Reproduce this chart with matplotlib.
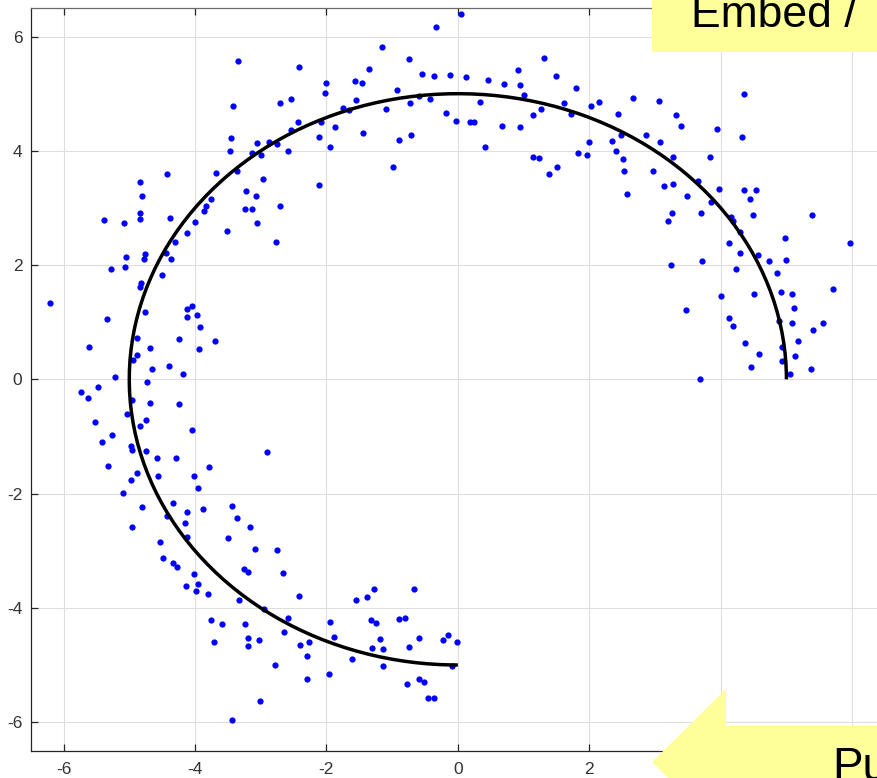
#!/usr/bin/env python3
"""Noisy samples scattered around a 270 degree circular arc (radius 5)."""

import numpy as np
import matplotlib

matplotlib.use("Agg")
import matplotlib.pyplot as plt
import matplotlib.patches as patches

# ---- data -------------------------------------------------------------
arc_radius = 5.0
arc_start_deg = 0
arc_end_deg = 270

# samples, grouped by where they sit on the arc
top_points = [
    (-3.35, 5.57), (-3.42, 4.78), (-3.45, 4.23), (-3.46, 3.99), (-3.13, 3.96),
    (-4.42, 3.60), (-4.84, 3.46), (-3.68, 3.62), (-3.36, 3.64), (-4.80, 3.21),
    (-3.23, 3.29), (-3.76, 3.16), (-3.84, 3.03), (-3.86, 2.95), (-4.84, 2.92),
    (-4.83, 2.80), (-5.39, 2.79), (-5.08, 2.74), (-4.38, 2.83), (-3.24, 2.99),
    (-3.14, 2.99), (-4.00, 2.76), (-4.12, 2.56), (-3.52, 2.60), (-4.31, 2.41),
    (0.05, 6.39), (-0.33, 6.17), (-1.15, 5.82), (-0.75, 5.61), (-2.41, 5.47),
    (-1.35, 5.44), (-0.55, 5.35), (-0.37, 5.31), (-0.12, 5.32), (0.13, 5.29),
    (-2.00, 5.19), (-1.56, 5.23), (-1.46, 5.18), (-2.02, 5.01), (-0.93, 5.07),
    (-2.54, 4.90), (-2.70, 4.83), (-1.55, 4.89), (-1.75, 4.75), (-1.66, 4.72),
    (-1.10, 4.73), (-0.73, 4.84), (-0.59, 4.96), (-0.43, 4.91), (0.34, 4.85),
    (-0.18, 4.66), (-0.03, 4.53), (0.18, 4.50), (0.25, 4.50), (-2.43, 4.51),
    (-2.08, 4.51), (-2.54, 4.36), (-1.87, 4.42), (-2.12, 4.24), (-1.44, 4.31),
    (-0.90, 4.19), (-0.71, 4.27), (-1.95, 4.07), (0.42, 4.07), (-2.75, 4.12),
    (-2.87, 4.16), (-3.05, 4.13), (-3.00, 3.92), (-2.58, 3.99), (-0.99, 3.72),
    (-2.96, 3.51), (-2.12, 3.40), (-3.07, 3.21), (-2.71, 3.03), (-3.05, 2.73),
    (-2.77, 2.40),
    (0.46, 5.24), (1.31, 5.63), (0.91, 5.42), (1.50, 5.31), (0.70, 5.17),
    (0.95, 5.16), (1.00, 4.98), (1.80, 5.10), (1.62, 4.84), (1.27, 4.74),
    (1.15, 4.63), (1.72, 4.65), (2.15, 4.85), (2.03, 4.78), (2.66, 4.92),
    (3.06, 4.88), (2.43, 4.65), (0.67, 4.43), (0.95, 4.42), (2.49, 4.27),
    (2.86, 4.27), (3.08, 4.15), (2.34, 4.17), (2.00, 4.16), (2.41, 3.99),
    (2.51, 3.86), (1.83, 3.96), (1.97, 3.93), (1.15, 3.90), (1.23, 3.88),
    (1.51, 3.72), (1.39, 3.59), (2.53, 3.65), (2.97, 3.64), (3.28, 3.89),
    (3.27, 3.42), (3.13, 3.38), (2.57, 3.25), (3.26, 2.91), (3.20, 2.77),
]

right_points = [
    (4.36, 4.99), (3.32, 4.62), (3.39, 4.43), (3.95, 4.39), (4.33, 4.24),
    (3.84, 3.89), (3.65, 3.47), (3.48, 3.21), (3.98, 3.34), (4.35, 3.31),
    (4.53, 3.32), (4.45, 3.16), (3.85, 3.11), (3.70, 2.91), (4.15, 2.85),
    (4.19, 2.78), (4.49, 2.87), (5.39, 2.88), (4.30, 2.58), (4.98, 2.47),
    (5.97, 2.39), (4.12, 2.38),
    (4.29, 2.21), (4.56, 2.17), (4.73, 2.07), (5.00, 2.09), (3.24, 2.01),
    (3.72, 2.07), (4.24, 1.93), (4.85, 1.86), (5.71, 1.58), (4.00, 1.46),
    (4.51, 1.49), (4.91, 1.53), (5.08, 1.50), (5.12, 1.25), (3.47, 1.21),
    (4.12, 1.07), (4.18, 0.94), (4.88, 1.02), (5.08, 0.98), (5.55, 0.98),
    (5.41, 0.87), (4.37, 0.64), (5.18, 0.67), (4.93, 0.56), (4.59, 0.44),
    (5.13, 0.41), (4.46, 0.22), (4.93, 0.32), (5.37, 0.18), (5.06, 0.09),
    (3.68, 0.01),
]

left_points = [
    (-4.44, 2.22), (-5.05, 2.14), (-4.76, 2.19), (-4.77, 2.11), (-4.37, 2.10),
    (-5.28, 1.94), (-5.06, 1.96), (-4.50, 1.82), (-4.82, 1.69), (-4.83, 1.61),
    (-6.20, 1.33), (-4.05, 1.28), (-4.12, 1.23), (-4.76, 1.18), (-4.12, 1.09),
    (-3.97, 1.12), (-5.34, 1.05), (-3.93, 0.91), (-4.88, 0.73), (-4.25, 0.71),
    (-3.70, 0.68), (-5.62, 0.57), (-4.69, 0.55), (-3.94, 0.53), (-4.88, 0.42),
    (-4.94, 0.34), (-4.39, 0.24), (-4.66, 0.18), (-4.19, 0.09), (-5.21, 0.04),
    (-4.73, -0.04), (-5.47, -0.13), (-5.73, -0.23), (-5.63, -0.32), (-4.96, -0.36),
    (-4.68, -0.41), (-4.24, -0.44), (-5.04, -0.60), (-4.74, -0.72), (-5.52, -0.75),
    (-4.83, -0.81), (-4.05, -0.88), (-5.27, -0.97), (-5.41, -1.09), (-4.98, -1.16),
    (-4.96, -1.24), (-4.74, -1.26), (-4.58, -1.38), (-4.29, -1.37), (-5.32, -1.51),
    (-3.79, -1.54), (-4.89, -1.64), (-4.56, -1.69), (-4.97, -1.76), (-4.01, -1.70),
    (-2.90, -1.27),
]

bottom_points = [
    (-3.96, -1.91), (-5.10, -1.99), (-4.81, -2.23), (-4.33, -2.17), (-4.12, -2.32),
    (-3.88, -2.27), (-3.43, -2.22), (-3.36, -2.42), (-4.42, -2.40), (-4.15, -2.51),
    (-4.96, -2.59), (-3.17, -2.59), (-4.12, -2.76), (-3.50, -2.77), (-4.53, -2.84),
    (-3.09, -2.97), (-4.48, -3.12), (-4.33, -3.22), (-4.28, -3.29), (-3.25, -3.32),
    (-3.20, -3.38), (-4.01, -3.40), (-3.96, -3.58), (-4.13, -3.61), (-3.99, -3.71),
    (-3.80, -3.76), (-3.33, -3.86), (-3.76, -4.22), (-3.59, -4.29), (-3.24, -4.29),
    (-3.71, -4.59), (-3.20, -4.52), (-3.20, -4.66), (-3.43, -5.97),
    (-2.75, -2.99), (-2.66, -3.39), (-2.42, -3.79), (-2.95, -4.02), (-2.59, -4.18),
    (-2.64, -4.42), (-3.03, -4.57), (-2.40, -4.65), (-2.27, -4.59), (-2.30, -4.84),
    (-2.78, -5.00), (-2.29, -5.25), (-3.01, -5.63), (-1.94, -4.25), (-1.89, -4.51),
    (-1.96, -5.15), (-1.61, -4.90), (-1.55, -3.87), (-1.39, -3.81), (-1.28, -3.67),
    (-1.32, -4.22), (-1.25, -4.26), (-1.18, -4.54), (-1.31, -4.71), (-1.14, -4.72),
    (-1.14, -5.02), (-0.89, -4.19), (-0.81, -4.18), (-0.66, -3.67), (-0.75, -4.69),
    (-0.59, -4.53), (-0.77, -5.33), (-0.59, -5.25), (-0.51, -5.29), (-0.45, -5.57),
    (-0.36, -5.57), (-0.23, -4.57), (-0.15, -4.47), (-0.01, -4.59), (-0.09, -5.02),
]

x_ticks = [-6, -4, -2, 0, 2, 4, 6]
y_ticks = [-6, -4, -2, 0, 2, 4, 6]

top_banner = "Embed /"
bottom_banner = "Pu"

# ---- figure -----------------------------------------------------------
W_PX, H_PX = 877, 778
plt.rcParams["font.family"] = ["Liberation Sans", "DejaVu Sans"]
plt.rcParams["axes.unicode_minus"] = False

fig = plt.figure(figsize=(W_PX / 100, H_PX / 100), dpi=100)


def px(x, y):
    """Pixel position (from top-left) to figure fraction."""
    return (x / W_PX, 1 - y / H_PX)


# axes box runs a bit past the right edge, as in the cropped screenshot
ax = fig.add_axes([30.7 / W_PX, 27.3 / H_PX, 854.3 / W_PX, 742.7 / H_PX])

pts = np.array(top_points + right_points + left_points + bottom_points)
ax.plot(pts[:, 0], pts[:, 1], "o", color="#0000ff", markersize=4.5,
        markeredgewidth=0, zorder=3)

arc = patches.Arc((0, 0), 2 * arc_radius, 2 * arc_radius,
                  theta1=arc_start_deg, theta2=arc_end_deg,
                  color="black", linewidth=2.5, zorder=4)
ax.add_patch(arc)

ax.set_xlim(-6.5, 6.5)
ax.set_ylim(-6.5, 6.5)
ax.set_xticks(x_ticks)
ax.set_yticks(y_ticks)
ax.grid(True, color="#dedede", linewidth=0.8)
ax.set_axisbelow(True)

ax.tick_params(direction="in", length=5, width=0.9, colors="#262626",
               labelsize=12.5, top=True, right=True)
ax.tick_params(labelcolor="#333333")
ax.tick_params(axis="x", pad=8)
ax.tick_params(axis="y", pad=6)
for name, spine in ax.spines.items():
    spine.set_linewidth(0.9)
    spine.set_color("#262626" if name in ("left", "bottom") else "#6a6a6a")

# ---- yellow slide callouts on top of the chart ------------------------
yellow = "#ffff99"
box_x0, box_y0 = px(652, 52)
box = patches.Rectangle((box_x0, box_y0), 1.1 - box_x0, 0.2,
                        transform=fig.transFigure, facecolor=yellow,
                        edgecolor="none", zorder=10)
fig.add_artist(box)
fig.text(*px(691, 27), top_banner, fontsize=32, color="black",
         ha="left", va="baseline", zorder=11)

arrow_px = [(652, 762), (726, 689), (726, 726), (920, 726),
            (920, 798), (726, 798), (726, 835)]
arrow = patches.Polygon([px(x, y) for x, y in arrow_px], closed=True,
                        transform=fig.transFigure, facecolor=yellow,
                        edgecolor="none", zorder=10)
fig.add_artist(arrow)
fig.text(*px(832, 780), bottom_banner, fontsize=33, color="black",
         ha="left", va="baseline", zorder=11)

fig.savefig("out.png", dpi=100)
